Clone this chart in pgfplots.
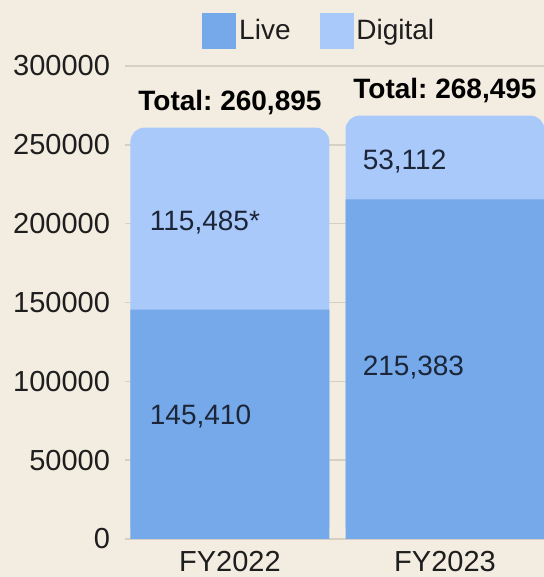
\documentclass[border=0pt]{standalone}
\usepackage{fontspec}
\setmainfont{Liberation Sans}
\usepackage{pgfplots}
\pgfplotsset{compat=1.18}
\usetikzlibrary{backgrounds}
\frenchspacing
\definecolor{bg}{HTML}{F3EDE1}
\definecolor{live}{HTML}{76A9E9}
\definecolor{digital}{HTML}{A8C9F9}
\definecolor{gridc}{HTML}{D6D0C4}
\definecolor{ink}{HTML}{1E1E1E}
\definecolor{navy}{HTML}{1C2638}
\newcommand{\fnt}{\fontsize{14pt}{16pt}\selectfont}

\begin{document}
\begin{tikzpicture}
\begin{axis}[
    scale only axis,
    width=209.5pt, height=236.5pt,
    ybar, bar width=0.925,
    xmin=-0.488, xmax=1.4605,
    ymin=0, ymax=300000,
    xtick={0,1}, xticklabels={FY2022,FY2023},
    ytick={0,50000,100000,150000,200000,250000,300000},
    yticklabels={0,50000,100000,150000,200000,250000,300000},
    scaled y ticks=false,
    tick label style={font=\fontsize{14.5pt}{16pt}\selectfont, text=ink},
    yticklabel style={xshift=-4pt},
    xticklabel style={yshift=-2.5pt},
    major tick length=0pt,
    axis line style={draw=none},
    ymajorgrids, grid style={gridc, line width=0.7pt},
    legend columns=2,
    legend style={at={(0.465,1)}, anchor=center, yshift=17.5pt,
        draw=none, fill=none, font=\fnt, text=ink,
        nodes={inner sep=1.5pt},
        /tikz/every even column/.append style={column sep=13pt}},
]
% legend entries
\addlegendimage{legend image code/.code={\fill[live] (0pt,-8.75pt) rectangle (16.5pt,8.75pt);}}
\addlegendentry{Live}
\addlegendimage{legend image code/.code={\fill[digital] (0pt,-8.75pt) rectangle (16.5pt,8.75pt);}}
\addlegendentry{Digital}

% totals (digital on top)
\addplot[fill=digital, draw=none, bar shift=0pt, rounded corners=7pt, forget plot,
    nodes near coords, point meta=explicit symbolic,
    every node near coord/.style={anchor=base, yshift=8.5pt, font=\fnt\bfseries, text=black}]
    coordinates {(0,260895) [Total: 260,895] (1,268495) [Total: 268,495]};

% live
\addplot[fill=live, draw=none, bar shift=0pt, forget plot]
    coordinates {(0,145410) (1,215383)};

% segment labels
\addplot[draw=none, fill=none, bar shift=0pt, forget plot,
    nodes near coords, point meta=explicit symbolic,
    every node near coord/.style={anchor=west, font=\fnt, text=navy}]
    coordinates {(-0.405,77400) [145,410] (-0.405,201000) [115,485*]
                 (0.585,108500) [215,383] (0.585,239100) [53,112]};
\end{axis}
\begin{scope}[on background layer]
\pgfresetboundingbox
\fill[bg, use as bounding box] ([xshift=-62.5pt,yshift=-19pt]current axis.south west)
    rectangle ([yshift=33pt]current axis.north east);
\end{scope}
\end{tikzpicture}
\end{document}
